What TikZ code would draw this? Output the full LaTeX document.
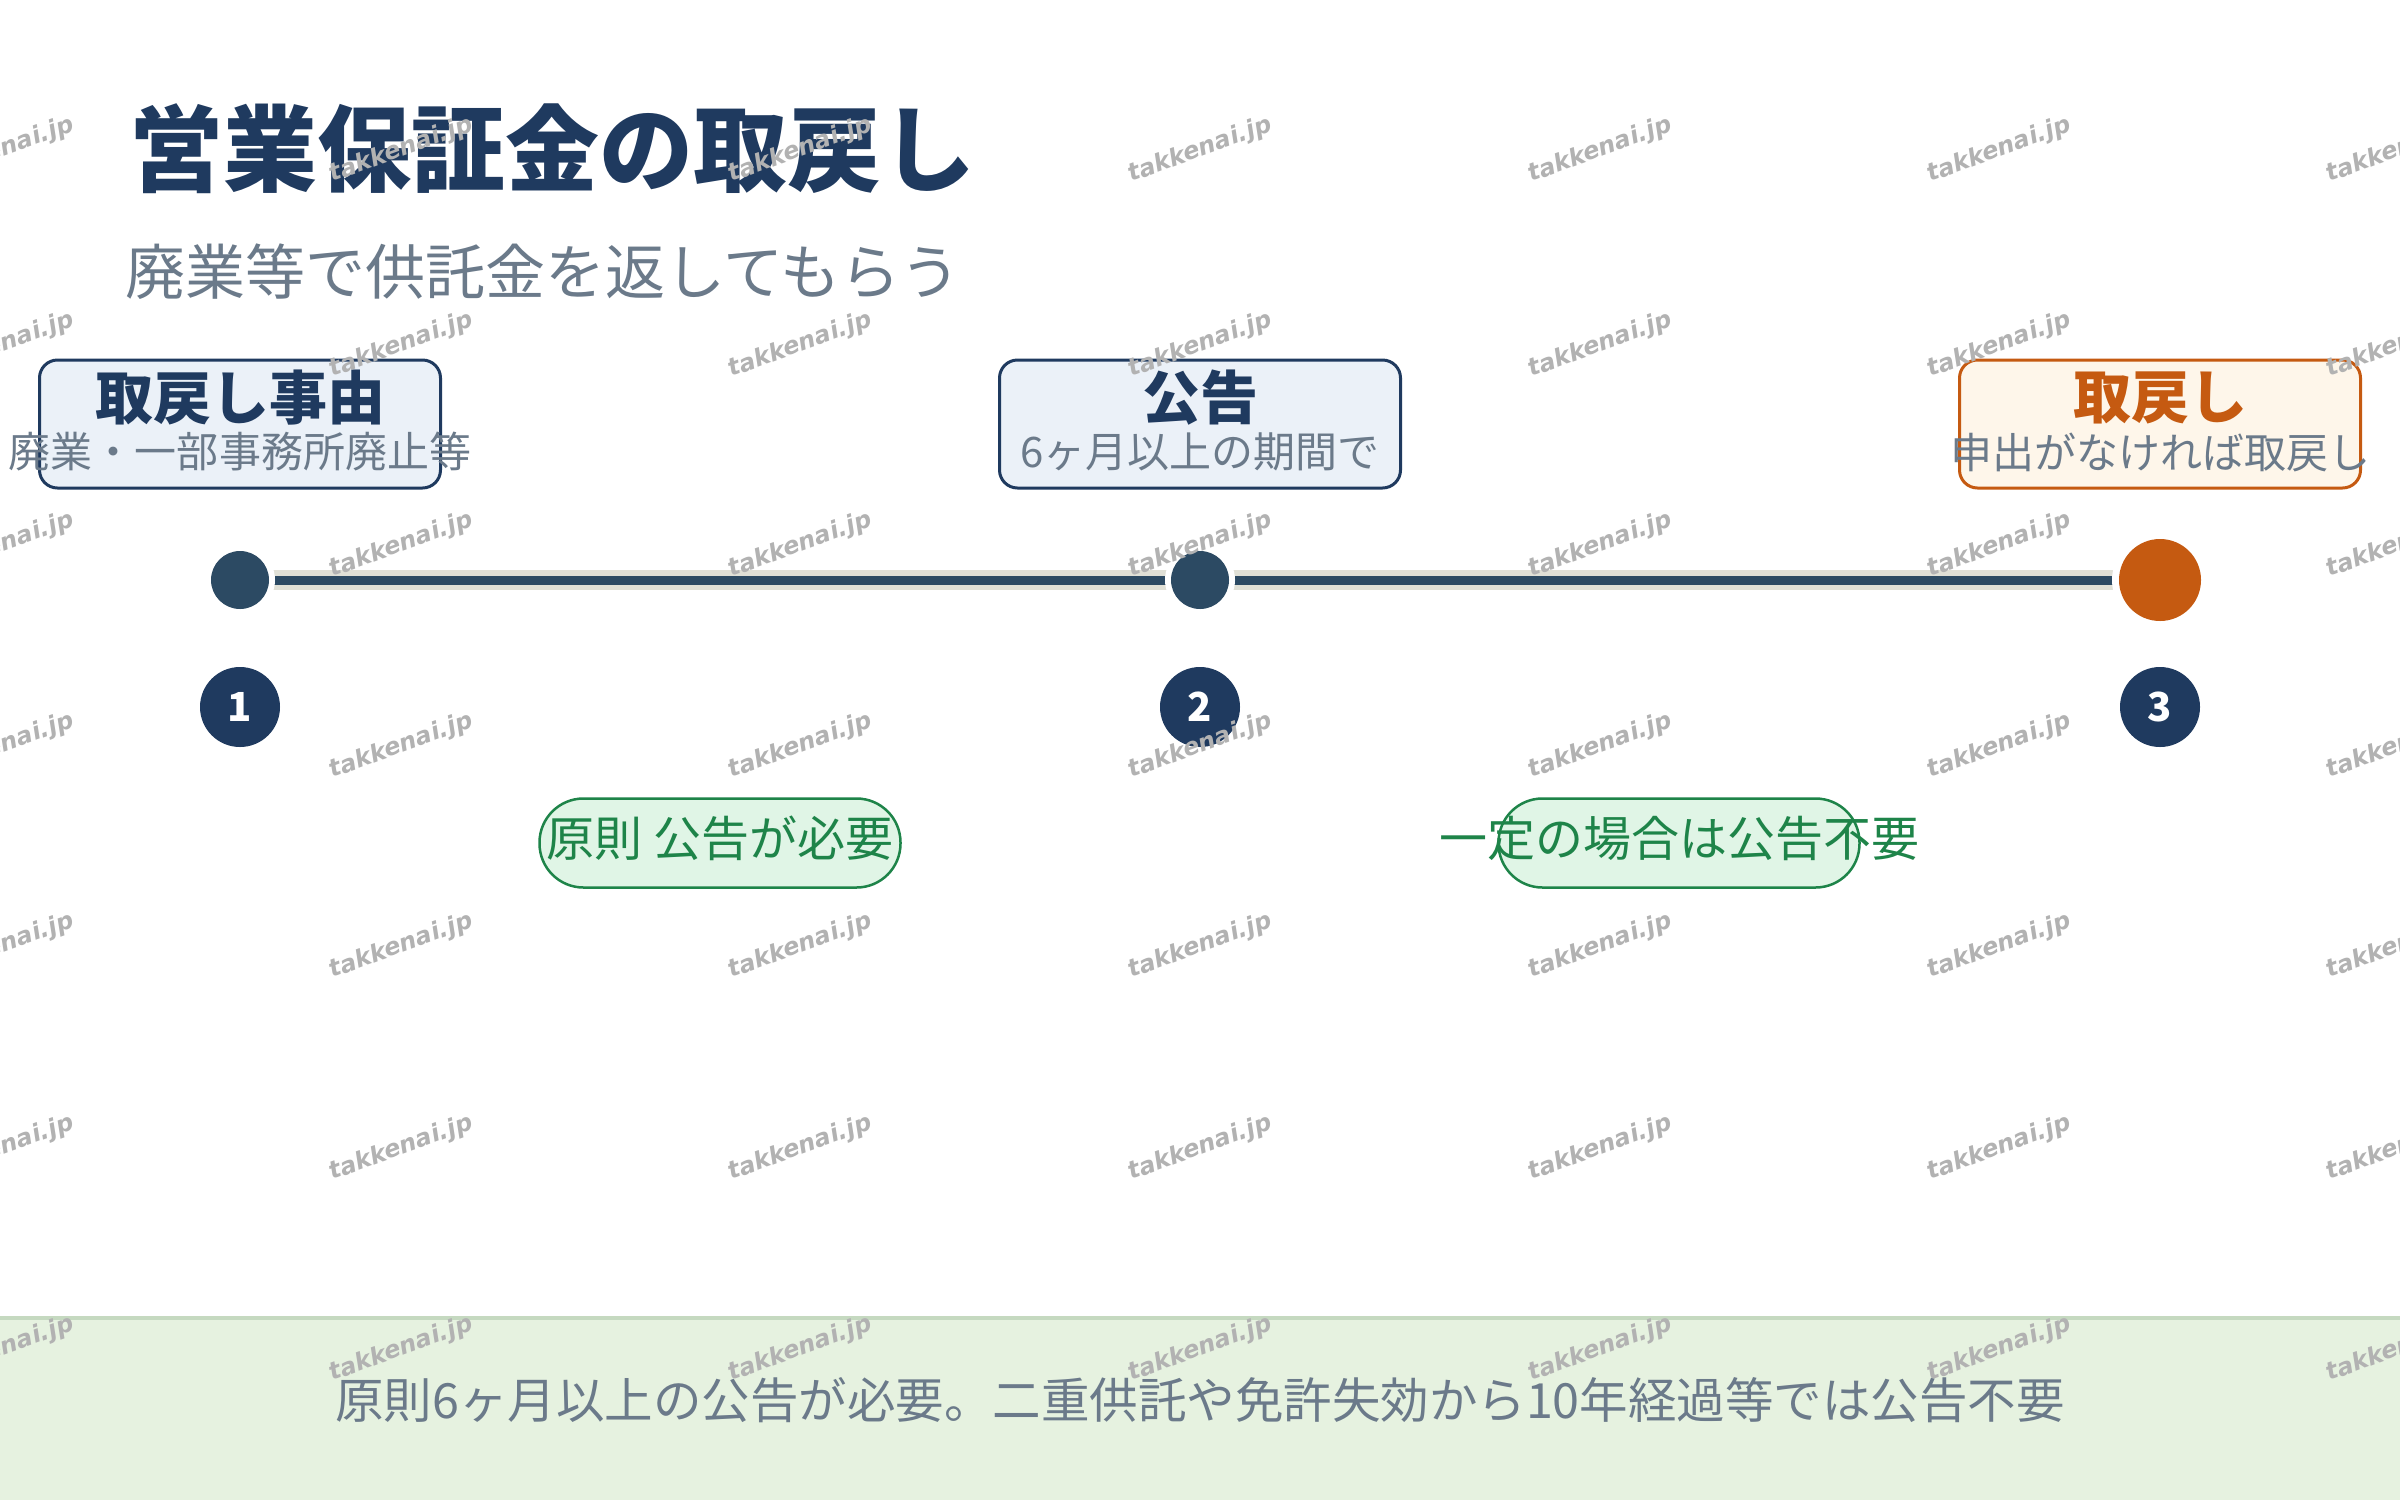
\documentclass[tikz,border=0pt]{standalone}
\usepackage{fontspec}
\setmainfont{Noto Sans CJK JP}
\newfontfamily\wm{DejaVu Sans}
\definecolor{navy}{HTML}{1F3A5F}
\definecolor{dotc}{HTML}{2C4A63}
\definecolor{orng}{HTML}{C55A11}
\definecolor{subg}{HTML}{6B7A8A}
\definecolor{grn}{HTML}{1E8449}
\definecolor{grnf}{HTML}{E0F5E6}
\definecolor{boxf}{HTML}{EBF1F8}
\definecolor{orf}{HTML}{FEF6EA}
\definecolor{bandf}{HTML}{E6F2E0}
\definecolor{bandl}{HTML}{C5D9C0}
\definecolor{beige}{HTML}{E0E0D6}
\tikzset{x=1pt,y=-1pt,
  evbox/.style={draw=navy,line width=3pt,fill=boxf,rounded corners=18pt,minimum width=401pt,minimum height=128pt},
  ttl/.style={font=\bfseries\fontsize{58}{60}\selectfont,text=navy},
  sub/.style={font=\fontsize{42}{44}\selectfont,text=subg},
  numc/.style={circle,fill=navy,minimum size=80pt,inner sep=0pt,text=white,font=\bfseries\fontsize{40}{40}\selectfont},
  pill/.style={draw=grn,line width=2.5pt,fill=grnf,rounded corners=44pt,minimum width=361pt,minimum height=89pt},
  pilltxt/.style={text=grn,font=\fontsize{48}{50}\selectfont},
  wmk/.style={rotate=20,text=black!30,font=\wm\bfseries\itshape\fontsize{24}{24}\selectfont}
}
\begin{document}
\begin{tikzpicture}
\useasboundingbox (0,0) rectangle (2400,1500);
\fill[white] (0,0) rectangle (2400,1500);
% bottom band
\fill[bandf] (0,1316) rectangle (2400,1500);
\draw[bandl,line width=4pt] (0,1318) -- (2400,1318);
\node[text=subg,font=\fontsize{48.5}{50}\selectfont] (foot) at (1200,1400) {原則6ヶ月以上の公告が必要。二重供託や免許失効から10年経過等では公告不要};
% title
\node[anchor=west,text=navy,font=\bfseries\fontsize{94}{96}\selectfont] (title) at (126,149) {営業保証金の取戻し};
\node[anchor=west,text=subg,font=\fontsize{60}{64}\selectfont] (subt) at (122,272) {廃業等で供託金を返してもらう};
% timeline
\coordinate (l) at (240,580); \coordinate (r) at (2160,580);
\draw[beige,line width=20pt] (l) -- (r);
\draw[dotc,line width=9pt] (l) -- (r);
\node[circle,fill=white,minimum size=70pt,inner sep=0pt] at (1200,580) {};
\node[circle,fill=white,minimum size=96pt,inner sep=0pt] at (2160,580) {};
\node[circle,fill=white,minimum size=70pt,inner sep=0pt] at (240,580) {};
\node[circle,fill=dotc,minimum size=58pt,inner sep=0pt] (d1) at (240,580) {};
\node[circle,fill=dotc,minimum size=58pt,inner sep=0pt] (d2) at (1200,580) {};
\node[circle,fill=orng,minimum size=82pt,inner sep=0pt] (d3) at (2160,580) {};
% boxes
\node[evbox] (b1) at (240,424) {};
\node[ttl] at (240,398) {取戻し事由};
\node[sub] at (240,452) {廃業・一部事務所廃止等};
\node[evbox] (b2) at (1200,424) {};
\node[ttl] at (1200,398) {公告};
\node[sub] at (1200,452) {6ヶ月以上の期間で};
\node[evbox,draw=orng,fill=orf] (b3) at (2160,424) {};
\node[ttl,text=orng] at (2160,398) {取戻し};
\node[sub] at (2160,452) {申出がなければ取戻し};
% numbers
\node[numc] (n1) at (240,707) {1};
\node[numc] (n2) at (1200,707) {2};
\node[numc] (n3) at (2160,707) {3};
% pills
\node[pill] (p1) at (720,843) {};
\node[pilltxt] at (720,838) {原則 公告が必要};
\node[pill] (p2) at (1679,843) {};
\node[pilltxt] at (1679,838) {一定の場合は公告不要};
% watermarks
\foreach \xx in {2,401,800,1200,1600,1999,2398}
  \foreach \yy in {150,345,545,746,946,1148,1349}
    \node[wmk] at (\xx,\yy) {takkenai.jp};
\end{tikzpicture}
\end{document}
